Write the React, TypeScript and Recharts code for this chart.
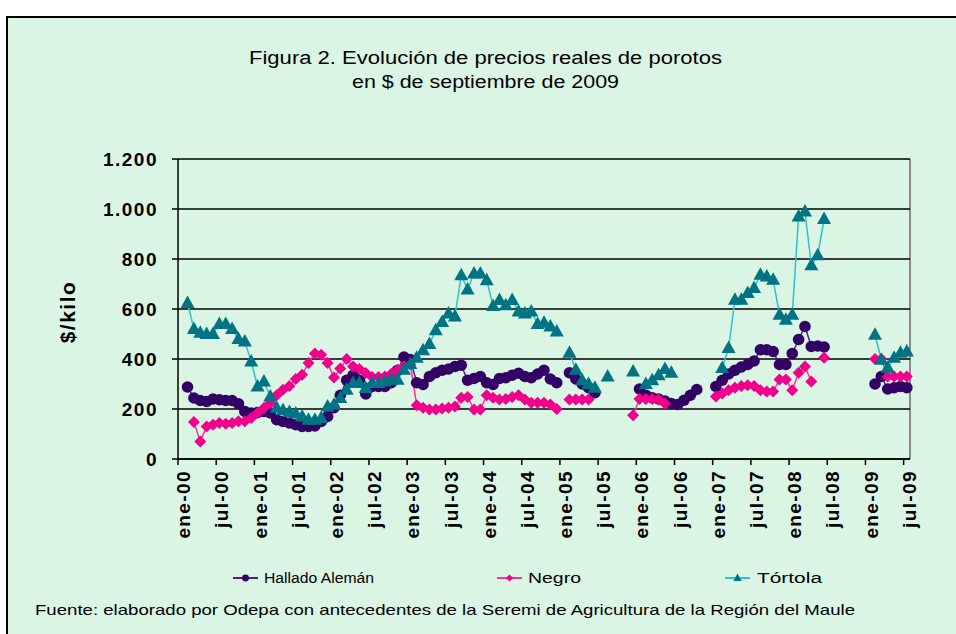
import React from 'react';
import { LineChart, Line, XAxis, YAxis, CartesianGrid } from 'recharts';

const MONTHS = ['ene', 'feb', 'mar', 'abr', 'may', 'jun', 'jul', 'ago', 'sep', 'oct', 'nov', 'dic'];
const YEARS = ['00', '01', '02', '03', '04', '05', '06', '07', '08', '09'];
const CATEGORIES: string[] = YEARS.flatMap((y) => MONTHS.map((m) => `${m}-${y}`)).slice(0, 115);

const Y_TICKS = [0, 200, 400, 600, 800, 1000, 1200];

const HALLADO: (number | null)[] = [
  null, 288, 244, 234, 230, 240, 237, 234, 234, 221, 190, 184,
  186, 190, 184, 157, 150, 144, 137, 130, 130, 132, 150, 170,
  205, 255, 315, 335, 315, 260, 290, 290, 290, 305, 355, 408,
  398, 305, 298, 330, 345, 355, 360, 370, 375, 315, 322, 330,
  305, 298, 322, 325, 335, 343, 330, 325, 340, 355, 320, 305,
  null, 345, 320, 300, 285, 265, null, null, null, null, null, null,
  280, 255, 245, 240, 232, 222, 218, 235, 255, 278, null, null,
  290, 315, 340, 355, 368, 378, 392, 437, 437, 430, 378, 378,
  422, 478, 530, 450, 452, 448, null, null, null, null, null, null,
  null, 300, 330, 280, 285, 290, 285,
];

const NEGRO: (number | null)[] = [
  null, null, 148, 70, 130, 137, 144, 141, 144, 151, 151, 164,
  184, 204, 224, 255, 277, 292, 320, 337, 384, 422, 417, 384,
  326, 362, 400, 370, 360, 344, 328, 328, 330, 341, 357, 370,
  378, 215, 205, 198, 198, 202, 205, 210, 245, 248, 198, 198,
  255, 245, 238, 240, 248, 255, 238, 225, 225, 225, 218, 200,
  null, 238, 238, 238, 238, null, null, null, null, null, null, 175,
  240, 240, 240, 238, 222, null, null, null, null, null, null, null,
  250, 262, 275, 285, 292, 295, 292, 275, 270, 270, 318, 318,
  275, 345, 370, 310, null, 405, null, null, null, null, null, null,
  null, 400, 400, 330, 330, 330, 330,
];

const TORTOLA: (number | null)[] = [
  null, 624, 520, 505, 500, 500, 540, 540, 520, 480, 470, 390,
  290, 310, 250, 205, 195, 188, 182, 170, 157, 157, 164, 210,
  217, 244, 277, 304, 304, 284, 304, 304, 310, 317, 317, 357,
  380, 405, 435, 460, 515, 548, 582, 570, 735, 678, 742, 742,
  715, 612, 636, 615, 636, 590, 582, 590, 540, 545, 530, 510,
  null, 425, 357, 315, 300, 285, null, 330, null, null, null, 350,
  null, 300, 315, 335, 360, 345, null, null, null, null, null, null,
  null, 364, 444, 637, 637, 664, 684, 737, 730, 717, 577, 557,
  577, 970, 990, 775, 815, 960, null, null, null, null, null, null,
  null, 497, 397, 365, 405, 425, 430,
];

const SERIES = [
  { key: 'hallado', name: 'Hallado Alemán', line: '#4A1F8C', marker: '#330066', shape: 'circle' },
  { key: 'negro', name: 'Negro', line: '#FF2FA0', marker: '#F0008C', shape: 'diamond' },
  { key: 'tortola', name: 'Tórtola', line: '#2CC3D3', marker: '#007384', shape: 'triangle' },
];

const data = CATEGORIES.map((c, i) => ({
  label: c,
  hallado: HALLADO[i],
  negro: NEGRO[i],
  tortola: TORTOLA[i],
}));

const FONT = '"Liberation Sans", Arial, sans-serif';
const BG = '#DAF5E3';
const HALF_BAND = 3.18;
const X_TICK_SIZE = 6;
const X_TICK_MARGIN = 4;

function markerShape(shape: string, cx: number, cy: number, color: string, s = 1) {
  if (shape === 'circle') return <circle cx={cx} cy={cy} r={5.8 * s} fill={color} />;
  if (shape === 'diamond')
    return (
      <polygon
        points={`${cx},${cy - 6 * s} ${cx + 6 * s},${cy} ${cx},${cy + 6 * s} ${cx - 6 * s},${cy}`}
        fill={color}
      />
    );
  return (
    <polygon
      points={`${cx},${cy - 7.5 * s} ${cx + 7 * s},${cy + 5 * s} ${cx - 7 * s},${cy + 5 * s}`}
      fill={color}
    />
  );
}

const makeDot = (shape: string, color: string) => (props: any) => {
  const { cx, cy, index, value } = props;
  if (cx == null || cy == null || value == null || Number.isNaN(cy)) return <g key={`d-${shape}-${index}`} />;
  return <g key={`d-${shape}-${index}`}>{markerShape(shape, cx, cy, color)}</g>;
};

const XTick = (props: any) => {
  const { x, y, payload } = props;
  const axisY = y - X_TICK_SIZE - X_TICK_MARGIN;
  return (
    <g>
      <line x1={x - HALF_BAND} y1={axisY} x2={x - HALF_BAND} y2={axisY + 6} stroke="#000" strokeWidth={1.5} />
      <text
        transform={`translate(${x + 9}, ${y + 1}) rotate(-90)`}
        textAnchor="end"
        fontFamily={FONT}
        fontWeight="bold"
        fontSize={19}
        letterSpacing={1.4}
        fill="#000"
      >
        {payload.value}
      </text>
    </g>
  );
};

const fmt = (v: number) => (v >= 1000 ? `${Math.floor(v / 1000)}.${String(v % 1000).padStart(3, '0')}` : String(v));

const YTick = (props: any) => {
  const { x, y, payload } = props;
  return (
    <text
      x={x}
      y={y}
      dy="0.36em"
      textAnchor="end"
      fontFamily={FONT}
      fontWeight="bold"
      fontSize={19}
      letterSpacing={1.5}
      fill="#000"
    >
      {fmt(payload.value)}
    </text>
  );
};

const LEGEND = [
  { lineX: 233, textX: 264, textLen: 110 },
  { lineX: 497, textX: 528, textLen: 53 },
  { lineX: 725, textX: 757, textLen: 65 },
];

export default function App() {
  return (
    <div style={{ position: 'absolute', left: 0, top: 0, width: 956, height: 634, background: '#fff', overflow: 'hidden' }}>
      <div
        style={{
          position: 'absolute',
          left: 6,
          top: 16,
          width: 980,
          height: 660,
          background: BG,
          borderLeft: '2px solid #000',
          borderTop: '2px solid #000',
        }}
      />
      <svg width={956} height={634} style={{ position: 'absolute', left: 0, top: 0 }}>
        <text x={249} y={64} fontFamily={FONT} fontSize={18} textLength={473} lengthAdjust="spacingAndGlyphs" fill="#000">
          Figura 2. Evolución de precios reales de porotos
        </text>
        <text x={352} y={88} fontFamily={FONT} fontSize={18} textLength={267} lengthAdjust="spacingAndGlyphs" fill="#000">
          en $ de septiembre de 2009
        </text>
        <text
          transform="translate(75, 312) rotate(-90)"
          textAnchor="middle"
          fontFamily={FONT}
          fontWeight="bold"
          fontSize={21}
          letterSpacing={1.5}
          fill="#000"
        >
          $/kilo
        </text>
        <line x1={910} y1={159} x2={910} y2={459} stroke="#8A8A8A" strokeWidth={2} />
        {SERIES.map((s, i) => (
          <g key={s.key}>
            <line x1={LEGEND[i].lineX} y1={578} x2={LEGEND[i].lineX + 25} y2={578} stroke={s.line} strokeWidth={2} />
            {markerShape(s.shape, LEGEND[i].lineX + 12.5, 578, s.marker, 0.6)}
            <text
              x={LEGEND[i].textX}
              y={583}
              fontFamily={FONT}
              fontSize={14}
              textLength={LEGEND[i].textLen}
              lengthAdjust="spacingAndGlyphs"
              fill="#000"
            >
              {s.name}
            </text>
          </g>
        ))}
        <text x={35} y={615} fontFamily={FONT} fontSize={15} textLength={820} lengthAdjust="spacingAndGlyphs" fill="#000">
          Fuente: elaborado por Odepa con antecedentes de la Seremi de Agricultura de la Región del Maule
        </text>
      </svg>
      <div style={{ position: 'absolute', left: 0, top: 0 }}>
        <LineChart width={956} height={634} data={data} margin={{ top: 159, right: 46, bottom: 95, left: 100 }}>
          <CartesianGrid horizontal vertical={false} stroke="#000" strokeWidth={1.5} />
          <XAxis
            dataKey="label"
            interval={5}
            padding={{ left: HALF_BAND, right: HALF_BAND }}
            tick={<XTick />}
            tickLine={false}
            tickSize={X_TICK_SIZE}
            tickMargin={X_TICK_MARGIN}
            height={80}
            axisLine={{ stroke: '#000', strokeWidth: 1.5 }}
          />
          <YAxis
            domain={[0, 1200]}
            ticks={Y_TICKS}
            interval={0}
            width={78}
            tick={<YTick />}
            tickSize={6}
            tickMargin={14}
            tickLine={{ stroke: '#000', strokeWidth: 1.5 }}
            axisLine={{ stroke: '#000', strokeWidth: 1.5 }}
          />
          {SERIES.map((s) => (
            <Line
              key={s.key}
              type="linear"
              dataKey={s.key}
              name={s.name}
              stroke={s.line}
              strokeWidth={1.5}
              dot={makeDot(s.shape, s.marker)}
              activeDot={false}
              isAnimationActive={false}
              connectNulls={false}
            />
          ))}
        </LineChart>
      </div>
    </div>
  );
}
